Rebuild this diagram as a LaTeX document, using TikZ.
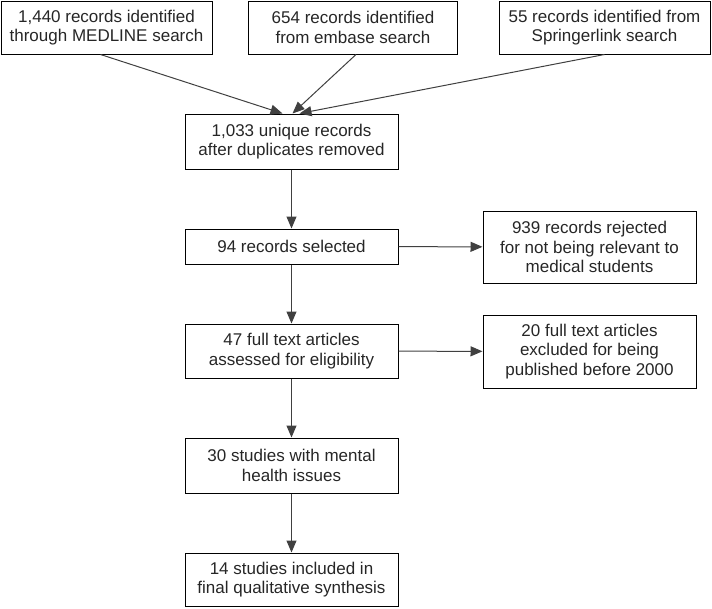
\documentclass[tikz,border=0pt]{standalone}
\usepackage{fontspec}
\setmainfont{Liberation Sans}
\usetikzlibrary{arrows.meta,calc}
\begin{document}
\begin{tikzpicture}[x=1pt,y=-1pt,
  box/.style={draw=black,line width=1pt,align=center,inner sep=0pt,
    font=\fontsize{17}{19.5}\selectfont,text=black!85},
  conn/.style={draw=black!75,line width=1pt,-{Triangle[length=12pt,width=10pt]}}]
\useasboundingbox (0,0) rectangle (712,608);
\node[box,minimum width=211,minimum height=53] (b1) at (106.5,27.5) {1,440 records identified\\through MEDLINE search};
\node[box,minimum width=209,minimum height=53] (b2) at (353,27.5) {654 records identified\\from embase search};
\node[box,minimum width=211,minimum height=53] (b3) at (604.5,27.5) {55 records identified from\\Springerlink search};
\node[box,minimum width=213,minimum height=55] (m) at (291.5,141.5) {1,033 unique records\\after duplicates removed};
\node[box,minimum width=213,minimum height=35] (s) at (291.5,246.5) {94 records selected};
\node[box,minimum width=213,minimum height=72] (r1) at (589.5,247) {939 records rejected\\for not being relevant to\\medical students};
\node[box,minimum width=213,minimum height=54] (e) at (291.5,351) {47 full text articles\\assessed for eligibility};
\node[box,minimum width=213,minimum height=73] (r2) at (589.5,351.5) {20 full text articles\\excluded for being\\published before 2000};
\node[box,minimum width=213,minimum height=55] (h) at (291.5,465.5) {30 studies with mental\\health issues};
\node[box,minimum width=213,minimum height=53] (f) at (291.5,579.5) {14 studies included in\\final qualitative synthesis};
\coordinate (t1) at ($(m.north)+(-9,0)$);
\coordinate (t2) at ($(m.north)+(1,0)$);
\coordinate (t3) at ($(m.north)+(8,0)$);
\draw[conn] ($(b1.south)+(-6,0)$) -- (t1);
\draw[conn] ($(b2.south)+(3,0)$) -- (t2);
\draw[conn] (b3.south) -- (t3);
\draw[conn] (m) -- (s);
\draw[conn] (s) -- (e);
\draw[conn] (e) -- (h);
\draw[conn] (h) -- (f);
\draw[conn] (s) -- (r1);
\draw[conn] (e) -- (r2);
\end{tikzpicture}
\end{document}
